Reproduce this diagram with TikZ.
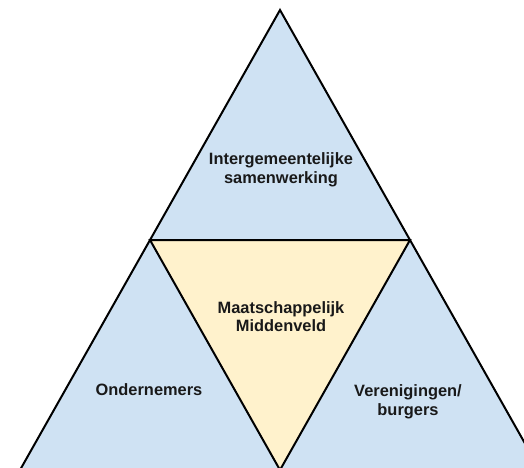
\documentclass[tikz,border=0pt]{standalone}
\usepackage{fontspec}
\setmainfont{Liberation Sans}
\usepackage{xcolor}
\definecolor{lichtblauw}{HTML}{CFE2F3}
\definecolor{lichtgeel}{HTML}{FFF2CC}
\usetikzlibrary{calc,positioning}
\tikzset{
  blauwvlak/.style={draw=black, fill=lichtblauw, line width=2pt, line join=miter},
  geelvlak/.style={draw=black, fill=lichtgeel, line width=2pt, line join=miter},
  etiket/.style={align=center, inner sep=0pt, text=black!90, font=\bfseries\fontsize{16.4}{18.5}\selectfont},
}
\begin{document}
\begin{tikzpicture}[x=1pt,y=-1pt]
\useasboundingbox (0,0) rectangle (524,467);
\clip (0,0) rectangle (524,467);
  % hoekpunten
  \coordinate (top) at (280,10);
  \coordinate (linksonder) at (20,470);
  \coordinate (rechtsonder) at (540,470);
  \coordinate (linksmidden) at ($(top)!0.5!(linksonder)$);
  \coordinate (rechtsmidden) at ($(top)!0.5!(rechtsonder)$);
  \coordinate (middenonder) at ($(linksonder)!0.5!(rechtsonder)$);

  \path[blauwvlak] (top) -- (linksonder) -- (rechtsonder) -- cycle;
  \path[geelvlak] (linksmidden) -- (rechtsmidden) -- (middenonder) -- cycle;

  \node[etiket] (samenwerking) at (281,169.7) {Intergemeentelijke\\samenwerking};
  \node[etiket] (middenveld) at (281,316.5) {Maatschappelijk\\Middenveld};
  \node[etiket] (ondernemers) at (149,390) {Ondernemers};
  \node[etiket] (burgers) at (408,401.7) {Verenigingen/\\burgers};
\end{tikzpicture}
\end{document}
